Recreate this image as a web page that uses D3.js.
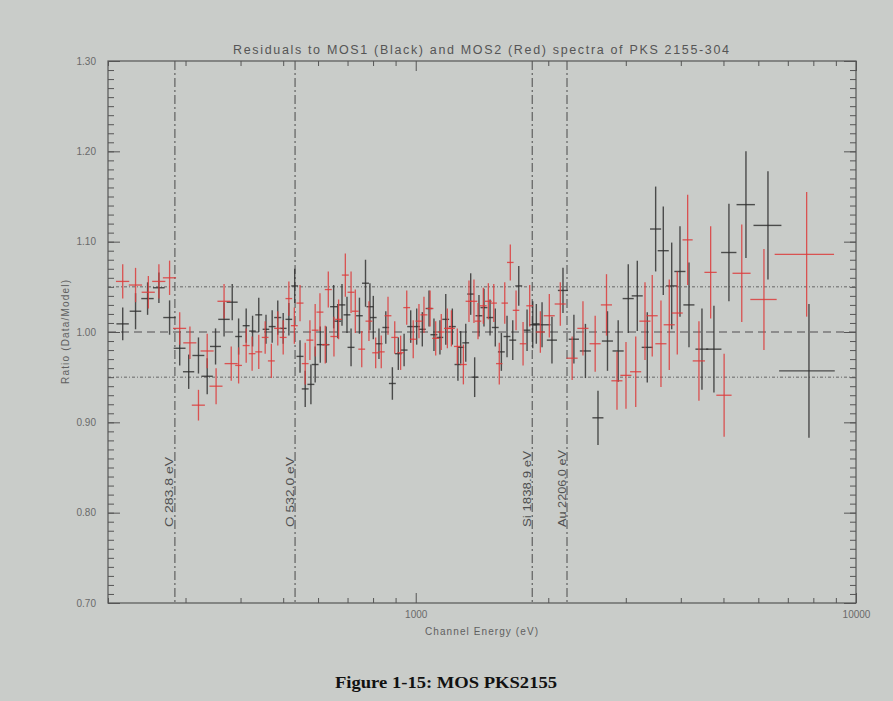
<!DOCTYPE html>
<html>
<head>
<meta charset="utf-8">
<script src="https://cdn.jsdelivr.net/npm/d3@7"></script>
<style>
  html, body { margin: 0; padding: 0; background: #c9ccc9; }
  svg { display: block; }
</style>
</head>
<body>
<svg id="chart" width="893" height="701" font-family="'Liberation Sans', Arial, sans-serif"></svg>
<script>
// ---------------- DATA ----------------
const titleText = "Residuals to MOS1 (Black) and MOS2 (Red) spectra of PKS 2155-304";
const xLabel = "Channel Energy (eV)";
const yLabel = "Ratio (Data/Model)";
const caption = "Figure 1-15: MOS PKS2155";

const xDomain = [200, 10000];
const yDomain = [0.70, 1.30];
const xMajorTicks = [1000, 10000];
const xMinorTicks = [200, 300, 400, 500, 600, 700, 800, 900, 2000, 3000, 4000, 5000, 6000, 7000, 8000, 9000];
const yMajorTicks = [0.70, 0.80, 0.90, 1.00, 1.10, 1.20, 1.30];

const edgeNames = ["C 283.8 eV", "O 532.0 eV", "Si 1838.9 eV", "Au 2206.0 eV"];
const edgeEnergies = [283.8, 532.0, 1838.9, 2206.0];

const refLevels = [0.95, 1.00, 1.05];

// MOS1 (black): channel energy (eV), half bin width (eV), ratio, 1-sigma error
const blackE = [216,231,246,261,276,291,305,321,336,351,367,383,
  396,412,426,440,457,472,486,500,515,531,546,561,578,591,607,626,651,665,680,698,
  713,745,769,787,801,825,855,885,913,941,974,1005,1035,1072,1100,1135,1170,1211,1247,1265,
  1299,1333,1361,1392,1429,1475,
  1516,1565,1612,1661,1714,1790,1844,1879,1936,2039,2160,2287,
  2429,2594,2726,2883,3039,3186,3357,3507,3650,3814,3983,4175,
  4468,4757,5145,5624,6310,7819];
const blackEx = [7,7,8,8,9,9,9,10,10,10,11,11,
  7,7.5,7.5,8,8,8.5,9,9,9,9.5,10,10,10.5,10.5,11,11,12,12,12,12.5,
  13,13,14,14,14,15,15,16,16,17,17.5,18,19,19,20,20,21,22,22,23,
  23,24,24,25,26,27,
  27,28,29,30,31,32,33,34,87,54,57,61,
  70,75,79,84,88,92,97,102,106,111,116,121,
  150,190,206,270,460,1130];
const blackRatio = [1.009,1.023,1.037,1.049,1.016,0.982,0.956,0.974,0.951,0.984,1.014,1.033,
  0.995,1.007,1.001,1.019,1.003,1.006,1.016,1.004,1.014,1.051,
  0.973,0.937,0.942,0.964,0.986,0.986,1.028,1.012,1.030,1.019,
  0.983,1.018,1.054,1.028,1.016,0.987,1.005,0.943,0.976,0.980,
  1.006,1.006,1.003,1.026,0.997,0.994,1.014,1.006,0.964,0.983,
  0.988,1.042,0.950,1.018,1.027,1.016,
  1.005,0.978,0.995,0.991,1.051,1.002,1.008,1.009,1.008,0.991,1.046,0.992,
  0.979,0.905,0.990,0.979,1.037,1.040,0.983,1.114,1.090,1.051,1.067,1.030,
  0.981,0.981,1.088,1.141,1.118,0.957];
const blackErr = [0.018,0.020,0.018,0.017,0.019,0.019,0.019,0.020,0.020,0.020,0.019,0.020,
  0.020,0.019,0.017,0.019,0.016,0.018,0.019,0.017,0.018,0.019,
  0.018,0.020,0.022,0.020,0.020,0.020,0.024,0.019,0.023,0.020,
  0.021,0.020,0.026,0.026,0.024,0.017,0.018,0.018,0.018,0.018,
  0.018,0.020,0.019,0.020,0.018,0.019,0.028,0.020,0.018,0.018,
  0.021,0.023,0.022,0.023,0.021,0.020,
  0.021,0.021,0.023,0.022,0.022,0.023,0.026,0.022,0.025,0.026,0.025,0.027,
  0.030,0.030,0.033,0.034,0.038,0.039,0.039,0.047,0.049,0.048,0.050,0.047,
  0.045,0.048,0.054,0.059,0.060,0.074];

// MOS2 (red)
const redE = [216,231,247,261,276,291,307,321,336,352,367,381,
  396,412,425,440,455,470,486,500,515,530,546,561,575,591,606,623,633,652,668,692,713,729,754,
  783,811,835,865,896,924,954,987,1017,1044,1078,1110,1143,1180,1205,1243,1283,1321,1356,1385,1424,1462,
  1504,1548,1593,1640,1690,1753,1815,1919,
  2011,2130,2266,2398,2556,2712,2865,3003,3160,3317,3445,3606,3766,3927,
  4146,4398,4676,5017,5502,6179,7725];
const redEx = [7.5,8,8.5,9,9.5,10,10.5,11,11.5,12,12.5,13,
  7,7.5,7.5,8,8,8.5,9,9,9,9.5,10,10,10.5,10.5,11,11,11.5,12,12,12.5,13,13,13.5,
  14,14.5,15,15.5,16,16.5,17,17.5,18,19,19,20,20,21,22,22,23,23,24,24,25,26,
  25,26,27,28,29,30,32,45,
  58,62,66,70,74,79,83,87,92,96,100,105,109,114,
  110,141,150,200,260,425,1190];
const redRatio = [1.056,1.052,1.044,1.056,1.060,1.004,0.988,0.919,0.979,0.940,1.034,0.965,
  0.963,0.985,0.976,0.978,0.994,0.968,1.004,0.994,1.037,1.007,
  1.032,0.965,0.991,1.002,1.022,0.986,1.047,0.995,1.014,1.063,
  1.044,1.023,0.981,
  1.012,0.977,0.978,1.018,0.994,0.977,1.027,0.992,1.012,1.019,
  1.026,0.993,1.000,1.004,1.004,0.984,0.964,1.034,1.034,1.012,
  1.029,1.034,
  1.032,0.965,1.032,1.077,1.024,0.987,1.029,1.000,
  1.018,1.031,0.971,1.004,0.987,1.030,0.946,0.952,0.956,1.012,1.018,0.987,1.008,1.021,
  1.102,0.968,1.066,0.930,1.065,1.036,1.086];
const redErr = [0.019,0.019,0.018,0.019,0.019,0.018,0.018,0.017,0.019,0.020,0.019,0.019,
  0.020,0.019,0.019,0.019,0.018,0.019,0.019,0.019,0.019,0.020,
  0.020,0.023,0.022,0.029,0.021,0.021,0.020,0.022,0.022,0.024,
  0.023,0.024,0.020,
  0.022,0.017,0.018,0.021,0.018,0.019,0.019,0.021,0.019,0.020,
  0.020,0.019,0.020,0.022,0.020,0.020,0.022,0.023,0.024,0.020,
  0.020,0.020,
  0.021,0.023,0.023,0.020,0.022,0.024,0.023,0.023,
  0.024,0.024,0.024,0.030,0.031,0.034,0.032,0.037,0.039,0.043,0.045,0.048,0.050,0.046,
  0.050,0.044,0.051,0.046,0.054,0.056,0.069];

// ---------------- DRAW ----------------
const W = 893, H = 701;
const margin = { left: 108, right: 856, top: 61, bottom: 603 };

const svg = d3.select("#chart");
svg.append("rect").attr("x", 0).attr("y", 0).attr("width", W).attr("height", H).attr("fill", "#c9ccc9");

const x = d3.scaleLog().domain(xDomain).range([margin.left, margin.right]);
const y = d3.scaleLinear().domain(yDomain).range([margin.bottom, margin.top]);

const axisColor = "#555";
const labelColor = "#6a6a6a";

// Reference horizontal lines
const refG = svg.append("g");
refLevels.forEach(v => {
  const isUnity = Math.abs(v - 1) < 1e-9;
  refG.append("line")
    .attr("x1", margin.left).attr("x2", margin.right)
    .attr("y1", y(v)).attr("y2", y(v))
    .attr("stroke", isUnity ? "#8c8c8c" : "#666")
    .attr("stroke-width", isUnity ? 2 : 1)
    .attr("stroke-dasharray", isUnity ? "8,5" : "3,2,1,2");
});

// Edge lines (dash-dot)
const edgeG = svg.append("g");
const edgeLabelLens = [70, 70, 76, 77];
edgeEnergies.forEach((e, i) => {
  const xp = x(e);
  edgeG.append("line")
    .attr("x1", xp).attr("x2", xp)
    .attr("y1", margin.top).attr("y2", margin.bottom)
    .attr("stroke", "#4a4a4a").attr("stroke-width", 1)
    .attr("stroke-dasharray", "9,3,2,3");
  edgeG.append("text")
    .attr("transform", `translate(${xp - 1.5},527) rotate(-90)`)
    .attr("font-size", 10.5)
    .attr("fill", "#505050")
    .attr("textLength", edgeLabelLens[i])
    .attr("lengthAdjust", "spacingAndGlyphs")
    .text(edgeNames[i]);
});

// Error bars
function drawSeries(Es, Exs, Rs, Errs, color, width, opacity) {
  const data = Es.map((e, i) => ({ e, ex: Exs[i], r: Rs[i], err: Errs[i] }));
  const g = svg.append("g").attr("stroke", color).attr("stroke-width", width).attr("stroke-opacity", opacity);
  g.selectAll("line.v").data(data).join("line").attr("class", "v")
    .attr("x1", d => x(d.e)).attr("x2", d => x(d.e))
    .attr("y1", d => y(d.r - d.err)).attr("y2", d => y(d.r + d.err));
  g.selectAll("line.h").data(data).join("line").attr("class", "h")
    .attr("x1", d => x(Math.max(d.e - d.ex, xDomain[0]))).attr("x2", d => x(Math.min(d.e + d.ex, xDomain[1])))
    .attr("y1", d => y(d.r)).attr("y2", d => y(d.r));
}
drawSeries(blackE, blackEx, blackRatio, blackErr, "#2e2e2e", 1.4, 0.82);
drawSeries(redE, redEx, redRatio, redErr, "#dc3c3c", 1.3, 0.85);

// Axes
function styleAxis(g) {
  g.select(".domain").remove();
  g.selectAll(".tick line").attr("stroke", axisColor).attr("stroke-width", 1);
  g.selectAll(".tick text").attr("fill", labelColor).attr("font-size", 10)
    .attr("font-family", "'Liberation Sans', Arial, sans-serif");
}
const yMinorTicks = d3.range(70, 131).map(v => v / 100);

// left
svg.append("g").attr("transform", `translate(${margin.left},0)`)
  .call(d3.axisLeft(y).tickValues(yMinorTicks).tickSizeInner(-6).tickSizeOuter(0).tickFormat(""))
  .call(styleAxis);
svg.append("g").attr("transform", `translate(${margin.left},0)`)
  .call(d3.axisLeft(y).tickValues(yMajorTicks).tickSizeInner(-12).tickSizeOuter(0).tickPadding(12).tickFormat(d3.format(".2f")))
  .call(styleAxis);
// right
svg.append("g").attr("transform", `translate(${margin.right},0)`)
  .call(d3.axisRight(y).tickValues(yMinorTicks).tickSizeInner(-6).tickSizeOuter(0).tickFormat(""))
  .call(styleAxis);
svg.append("g").attr("transform", `translate(${margin.right},0)`)
  .call(d3.axisRight(y).tickValues(yMajorTicks).tickSizeInner(-12).tickSizeOuter(0).tickFormat(""))
  .call(styleAxis);
// bottom
svg.append("g").attr("transform", `translate(0,${margin.bottom})`)
  .call(d3.axisBottom(x).tickValues(xMinorTicks).tickSizeInner(-5).tickSizeOuter(0).tickFormat(""))
  .call(styleAxis);
svg.append("g").attr("transform", `translate(0,${margin.bottom})`)
  .call(d3.axisBottom(x).tickValues(xMajorTicks).tickSizeInner(-10).tickSizeOuter(0).tickPadding(8).tickFormat(d3.format("d")))
  .call(styleAxis);
// top
svg.append("g").attr("transform", `translate(0,${margin.top})`)
  .call(d3.axisTop(x).tickValues(xMinorTicks).tickSizeInner(-5).tickSizeOuter(0).tickFormat(""))
  .call(styleAxis);
svg.append("g").attr("transform", `translate(0,${margin.top})`)
  .call(d3.axisTop(x).tickValues(xMajorTicks).tickSizeInner(-10).tickSizeOuter(0).tickFormat(""))
  .call(styleAxis);

// Frame
svg.append("rect")
  .attr("x", margin.left).attr("y", margin.top)
  .attr("width", margin.right - margin.left).attr("height", margin.bottom - margin.top)
  .attr("fill", "none").attr("stroke", axisColor).attr("stroke-width", 1.2);

// Title
svg.append("text")
  .attr("x", 233).attr("y", 54)
  .attr("font-size", 12.5).attr("fill", "#555")
  .attr("textLength", 496).attr("lengthAdjust", "spacing")
  .text(titleText);

// Axis labels
svg.append("text")
  .attr("x", 425).attr("y", 635)
  .attr("font-size", 10).attr("fill", "#606060")
  .attr("textLength", 113).attr("lengthAdjust", "spacing")
  .text(xLabel);
svg.append("text")
  .attr("transform", "translate(69,384) rotate(-90)")
  .attr("font-size", 10).attr("fill", "#606060")
  .attr("textLength", 104).attr("lengthAdjust", "spacing")
  .text(yLabel);

// Caption
svg.append("text")
  .attr("x", 335).attr("y", 688)
  .attr("font-family", "'Liberation Serif', 'Times New Roman', serif")
  .attr("font-weight", "bold").attr("font-size", 17).attr("fill", "#111")
  .attr("textLength", 222).attr("lengthAdjust", "spacingAndGlyphs")
  .text(caption);
</script>
</body>
</html>
